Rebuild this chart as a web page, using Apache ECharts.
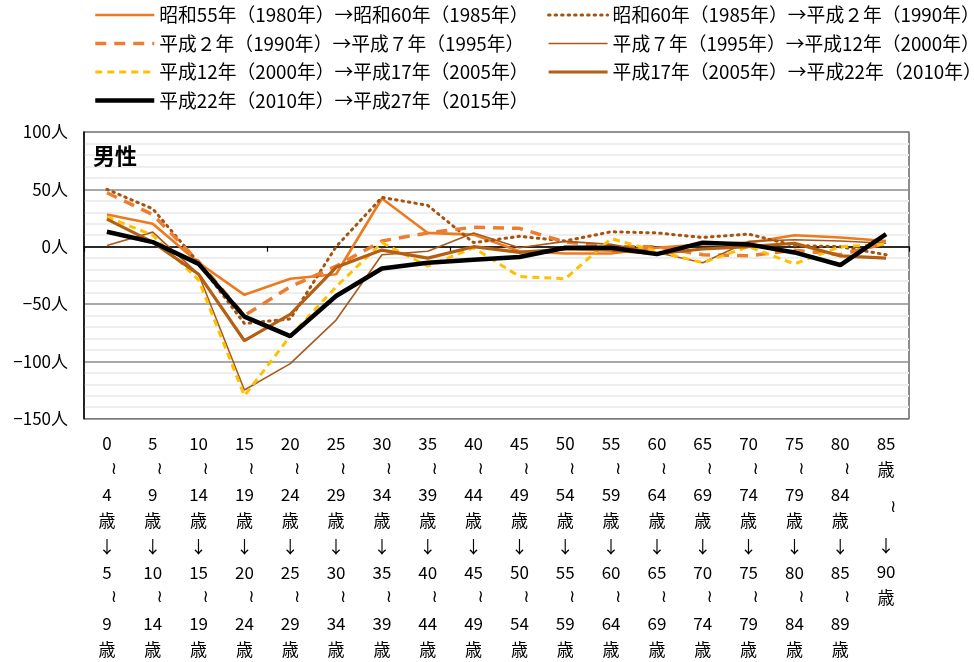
<!DOCTYPE html>
<html><head><meta charset="utf-8">
<script src="https://cdn.jsdelivr.net/npm/echarts/dist/echarts.min.js"></script>
<style>html,body{margin:0;padding:0;background:#fff}#c{width:974px;height:662px}</style>
</head><body><div id="c"></div>
<script>
const ageLabels = ['0～4歳→5～9歳','5～9歳→10～14歳','10～14歳→15～19歳','15～19歳→20～24歳','20～24歳→25～29歳','25～29歳→30～34歳','30～34歳→35～39歳','35～39歳→40～44歳','40～44歳→45～49歳','45～49歳→50～54歳','50～54歳→55～59歳','55～59歳→60～64歳','60～64歳→65～69歳','65～69歳→70～74歳','70～74歳→75～79歳','75～79歳→80～84歳','80～84歳→85～89歳','85歳～→90歳'];
const seriesNames = ['昭和55年（1980年）→昭和60年（1985年）','昭和60年（1985年）→平成２年（1990年）','平成２年（1990年）→平成７年（1995年）','平成７年（1995年）→平成12年（2000年）','平成12年（2000年）→平成17年（2005年）','平成17年（2005年）→平成22年（2010年）','平成22年（2010年）→平成27年（2015年）'];
const s1980 = [28, 20, -14, -42, -28, -24, 42, 12, 10.5, -4, -6, -6, -1, 2, 3.5, 10, 8, 5];
const s1985 = [50, 33, -14, -67, -63, 0, 43, 36, 3.5, 9, 5, 13, 12, 8, 11, 1, 0, -7];
const s1990 = [47, 28, -13, -60, -35, -17, 5, 12, 17, 16, 4, 0, 0, -7, -8, -3, -7, 3];
const s1995 = [1, 12.7, -24, -125, -102, -64, -7, -4, 12, -1, 4.6, 2, -5, -14, 4.6, 6, 5, 3];
const s2000 = [26, 10, -29, -130, -78, -35, 3.5, -17, -1, -26, -28, 7, -4, -14, 0, -15, 0, 2];
const s2005 = [24, 4, -24, -82, -59, -18, -3, -10, 0, -5, -2, -3, -6, -2, 0, 3, -8, -10];
const s2010 = [13, 4, -15, -61, -78, -43, -19, -14, -11.5, -9, -1, -1, -6.5, 3.5, 2, -5, -16, 11];
const yTicks = [-150, -100, -50, 0, 50, 100];

function vertical(s) {
  const toks = s.match(/\d+|./g);
  const out = [];
  for (let i = 0; i < toks.length; i++) {
    const t = toks[i];
    if (t === '～') out.push(toks[i - 1] === '歳' ? '{t2|≀}' : '{t|≀}');
    else if (t === '→') out.push('↓');
    else out.push(t);
  }
  return out.join('\n');
}

const FONT = '"Noto Sans CJK JP", "Noto Sans", sans-serif';
const chart = echarts.init(document.getElementById('c'), null, {renderer: 'canvas'});
const styles = [
  {color: '#EC7A1F', width: 2.6, type: 'solid'},
  {color: '#A5530F', width: 3, type: [1.5, 5], cap: 'round'},
  {color: '#ED7D31', width: 3.5, type: [11, 8]},
  {color: '#A8591C', width: 1.6, type: 'solid'},
  {color: '#FFC000', width: 3, type: [7, 5]},
  {color: '#B45F12', width: 3.2, type: 'solid'},
  {color: '#000000', width: 4.5, type: 'solid'}
];
const dataArr = [s1980, s1985, s1990, s1995, s2000, s2005, s2010];
const lineStyleOf = i => ({color: styles[i].color, width: styles[i].width, type: styles[i].type, cap: styles[i].cap || 'butt'});
const series = dataArr.map((d, i) => ({
  name: seriesNames[i], type: 'line', data: d, symbol: 'none', xAxisIndex: 0,
  lineStyle: lineStyleOf(i),
  itemStyle: {color: styles[i].color}, animation: false, z: 3 + i
}));
const legendItem = i => ({name: seriesNames[i], lineStyle: lineStyleOf(i), itemStyle: {opacity: 0}});

const legendText = {fontSize: 18.8, fontFamily: FONT, color: '#000', lineHeight: 20};
const legendCommon = {orient: 'vertical', top: 5, padding: 0, itemWidth: 59, itemHeight: 14, itemGap: 8.5,
  textStyle: legendText, selectedMode: false, itemStyle: {opacity: 0}};
chart.setOption({
  animation: false,
  textStyle: {fontFamily: FONT},
  title: {text: '男性', left: 93, top: 145, padding: 0, textStyle: {fontSize: 22, fontWeight: 'bold', color: '#000', fontFamily: FONT}},
  legend: [
    Object.assign({data: [0, 2, 4, 6].map(legendItem), left: 93}, legendCommon),
    Object.assign({data: [1, 3, 5].map(legendItem), left: 547}, legendCommon)
  ],
  grid: {left: 84, right: 65, top: 132, bottom: 243, show: true, borderColor: '#404040', borderWidth: 1.2, containLabel: false},
  xAxis: [
    {type: 'category', data: ageLabels, position: 'bottom', boundaryGap: true,
     axisLine: {show: false, onZero: false}, axisTick: {show: false},
     axisLabel: {interval: 0, margin: 12, fontSize: 17, lineHeight: 25.7, color: '#000', fontFamily: FONT,
       formatter: v => vertical(v),
       rich: {t: {fontSize: 17, lineHeight: 25.7, padding: [0, 0, 0, 14], color: '#000', fontFamily: 'DejaVu Sans'},
              t2: {fontSize: 17, lineHeight: 51, padding: [0, 0, 0, 14], color: '#000', fontFamily: 'DejaVu Sans'}}},
     splitLine: {show: false}},
    {type: 'category', data: ageLabels, position: 'top', boundaryGap: true,
     axisLine: {show: true, onZero: true, lineStyle: {color: '#000', width: 1.5}},
     axisTick: {show: true, inside: true, length: 5, lineStyle: {color: '#000', width: 1.2}},
     axisLabel: {show: false}, splitLine: {show: false}}
  ],
  yAxis: {type: 'value', min: yTicks[0], max: yTicks[yTicks.length - 1], interval: 50,
    axisLine: {show: true, lineStyle: {color: '#000', width: 1.5}}, axisTick: {show: false},
    minorTick: {show: false, splitNumber: 5},
    minorSplitLine: {show: true, lineStyle: {color: '#EEEEEE', width: 2}},
    splitLine: {show: true, lineStyle: {color: '#8C8C8C', width: 1.5}},
    axisLabel: {margin: 16, fontSize: 17, color: '#000', fontFamily: FONT,
      formatter: v => (v < 0 ? '−' + Math.abs(v) : v) + '人'}},
  series: series
});
</script></body></html>
